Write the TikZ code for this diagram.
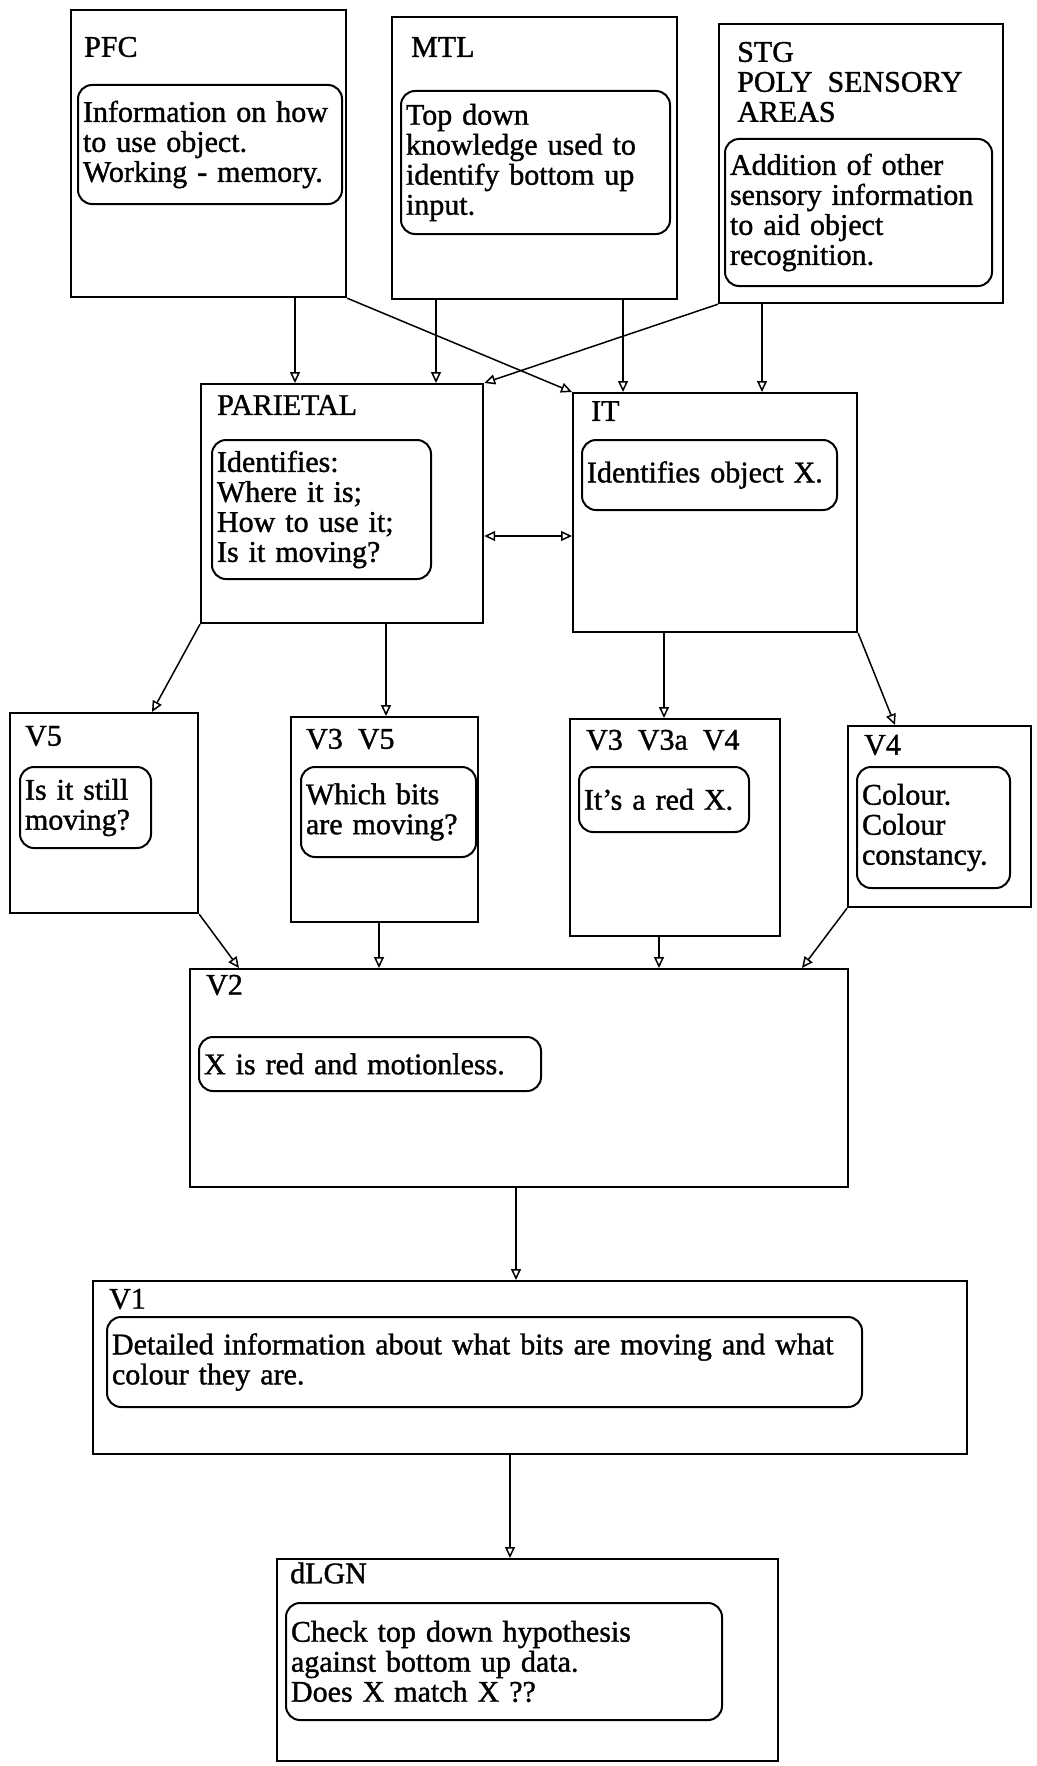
\documentclass[tikz,border=0pt]{standalone}
\usepackage{fontspec}
\setmainfont{Liberation Serif}[UprightFeatures={FakeBold=1.2}]
\usetikzlibrary{arrows.meta}
\begin{document}
\begin{tikzpicture}[x=1pt, y=-1pt, font=\fontsize{30}{30}\selectfont, >={Triangle[open, length=11pt, width=10pt]}]
  \tikzstyle{area}=[rectangle, draw, line width=2.2pt, anchor=north west, inner sep=0pt]
  \tikzstyle{note}=[rectangle, draw, rounded corners=14pt, line width=2pt, anchor=north west, align=left, inner sep=5pt]
  \tikzstyle{tag}=[anchor=west, inner sep=0pt, align=left]
  \tikzstyle{arr}=[line width=1.5pt, ->]
  \useasboundingbox (0,0) rectangle (1036,1766);
  \node[area, minimum width=275pt, minimum height=287pt] (pfc) at (70,9) {};
  \node[area, minimum width=285pt, minimum height=282pt] (mtl) at (391,16) {};
  \node[area, minimum width=284pt, minimum height=279pt] (stg) at (718,23) {};
  \node[area, minimum width=282pt, minimum height=239pt] (par) at (200,383) {};
  \node[area, minimum width=284pt, minimum height=239pt] (it) at (572,392) {};
  \node[area, minimum width=188pt, minimum height=200pt] (v5) at (9,712) {};
  \node[area, minimum width=187pt, minimum height=205pt] (v35) at (290,716) {};
  \node[area, minimum width=210pt, minimum height=217pt] (v34) at (569,718) {};
  \node[area, minimum width=183pt, minimum height=181pt] (v4) at (847,725) {};
  \node[area, minimum width=658pt, minimum height=218pt] (v2) at (189,968) {};
  \node[area, minimum width=874pt, minimum height=173pt] (v1) at (92,1280) {};
  \node[area, minimum width=501pt, minimum height=202pt] (dlgn) at (276,1558) {};
  \node[tag] (pfclbl) at (84,47) {PFC};
  \node[tag] (mtllbl) at (411,47) {MTL};
  \node[tag] (stglbl) at (737,82) {STG\\POLY~~SENSORY\\AREAS};
  \node[tag] (parlbl) at (217,405) {PARIETAL};
  \node[tag] (itlbl) at (591,411) {IT};
  \node[tag] (v5lbl) at (25,736) {V5};
  \node[tag] (v35lbl) at (306,739) {V3~~V5};
  \node[tag] (v34lbl) at (586,740) {V3~~V3a~~V4};
  \node[tag] (v4lbl) at (864,745) {V4};
  \node[tag] (v2lbl) at (206,985) {V2};
  \node[tag] (v1lbl) at (109,1299) {V1};
  \node[tag] (dlgnlbl) at (290,1573) {dLGN};
  \node[note, text width=254pt, minimum height=119pt] (pfcnote) at (77,84) {Information on how\\to use object.\\Working - memory.};
  \node[note, text width=259pt, minimum height=143pt] (mtlnote) at (400,90) {Top down\\knowledge used to\\identify bottom up\\input.};
  \node[note, text width=257pt, minimum height=147pt] (stgnote) at (724,138) {Addition of other\\sensory information\\to aid object\\recognition.};
  \node[note, text width=209pt, minimum height=139pt] (parnote) at (211,439) {Identifies:\\Where it is;\\How to use it;\\Is it moving?};
  \node[note, text width=245pt, minimum height=70pt] (itnote) at (581,439) {Identifies object X.};
  \node[note, text width=121pt, minimum height=81pt] (v5note) at (19,766) {Is it still\\moving?};
  \node[note, text width=165pt, minimum height=90pt] (v35note) at (300,766) {Which bits\\are moving?};
  \node[note, text width=160pt, minimum height=65pt] (v34note) at (578,766) {It’s a red X.};
  \node[note, text width=143pt, minimum height=121pt] (v4note) at (856,766) {Colour.\\Colour\\constancy.};
  \node[note, text width=332pt, minimum height=54pt] (v2note) at (198,1036) {X is red and motionless.};
  \node[note, text width=745pt, minimum height=90pt] (v1note) at (106,1316) {Detailed information about what bits are moving and what\\colour they are.};
  \node[note, text width=426pt, minimum height=117pt] (dlgnnote) at (285,1602) {Check top down hypothesis\\against bottom up data.\\Does X match X ??};
  \draw[arr] (pfc.south -| 295,0) -- (par.north -| 295,0);
  \draw[arr] (mtl.south -| 436,0) -- (par.north -| 436,0);
  \draw[arr] (pfc.south east) -- (it.north west);
  \draw[arr] (stg.south west) -- (par.north east);
  \draw[arr] (mtl.south -| 623,0) -- (it.north -| 623,0);
  \draw[arr] (stg.south -| 762,0) -- (it.north -| 762,0);
  \draw[arr, <->] (par.east |- 0,536) -- (it.west |- 0,536);
  \draw[arr] (par.south west) -- (v5.north -| 152,0);
  \draw[arr] (par.south -| 386,0) -- (v35.north -| 386,0);
  \draw[arr] (it.south -| 664,0) -- (v34.north -| 664,0);
  \draw[arr] (it.south east) -- (v4.north -| 895,0);
  \draw[arr] (v5.south east) -- (v2.north -| 239,0);
  \draw[arr] (v35.south -| 379,0) -- (v2.north -| 379,0);
  \draw[arr] (v34.south -| 659,0) -- (v2.north -| 659,0);
  \draw[arr] (v4.south west) -- (v2.north -| 802,0);
  \draw[arr] (v2.south -| 516,0) -- (v1.north -| 516,0);
  \draw[arr] (v1.south -| 510,0) -- (dlgn.north -| 510,0);
\end{tikzpicture}
\end{document}
